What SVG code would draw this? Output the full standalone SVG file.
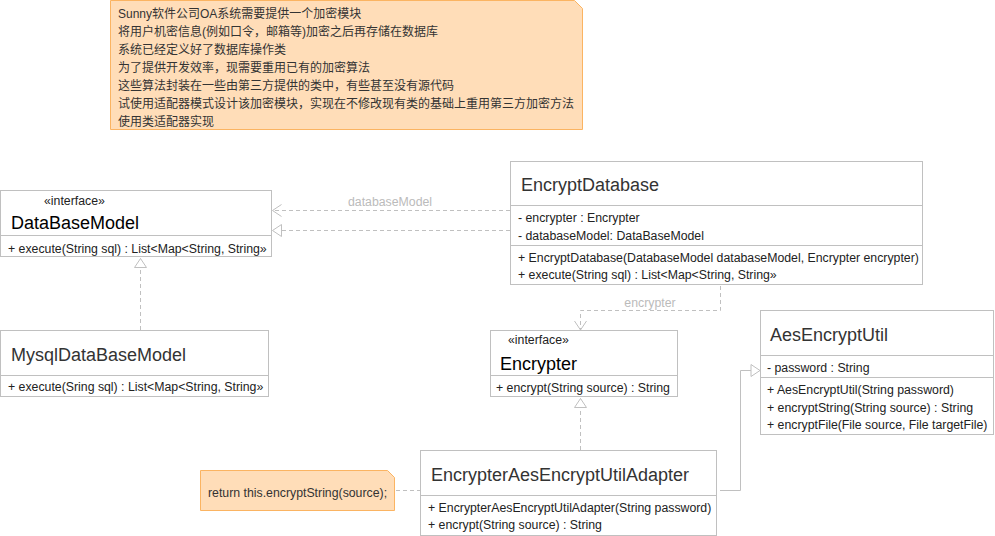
<svg xmlns="http://www.w3.org/2000/svg" width="995" height="536" viewBox="0 0 995 536">
<style>
text{font-family:"Liberation Sans",Arial,"Noto Sans CJK SC",sans-serif;font-size:12.3px;fill:#222}
.box{fill:#fff;stroke:#c0c0c0;stroke-width:1}
.sep{stroke:#c0c0c0;stroke-width:1}
.title{font-size:18px;fill:#333}
.ititle{font-size:18px;fill:#000}
.note{fill:#FFDDB8;stroke:#FBB462;stroke-width:1}
.ntext{fill:#333;font-size:12px}
.dash{fill:none;stroke:#c0c0c0;stroke-width:1;stroke-dasharray:4,3}
.solid{fill:none;stroke:#c0c0c0;stroke-width:1}
.lbl{fill:#bbbbbb;font-size:12.3px}
</style>
<defs>
<marker id="open" markerUnits="userSpaceOnUse" markerWidth="20" markerHeight="20" viewBox="-10 -10 20 20" refX="0" refY="0" orient="auto">
<path d="M-9,-6 L0,0 L-9,6" fill="none" stroke="#c0c0c0" stroke-width="1"/>
</marker>
<marker id="tri" markerUnits="userSpaceOnUse" markerWidth="20" markerHeight="20" viewBox="-10 -10 20 20" refX="0" refY="0" orient="auto">
<path d="M-9,-6 L0,0 L-9,6 Z" fill="#fff" stroke="#c0c0c0" stroke-width="1"/>
</marker>
</defs>
<rect width="995" height="536" fill="#fff"/>

<g id="connectors">
<path class="dash" d="M510,210.5 H272.5" marker-end="url(#open)"/>
<text class="lbl" x="390" y="206" text-anchor="middle">databaseModel</text>
<path class="dash" d="M510,230.5 H272.5" marker-end="url(#tri)"/>
<path class="dash" d="M720.5,286 V310.5 H580.5 V330" marker-end="url(#open)"/>
<text class="lbl" x="650" y="306.5" text-anchor="middle">encrypter</text>
<path class="dash" d="M140.5,330 V258.5" marker-end="url(#tri)"/>
<path class="dash" d="M580.5,450 V398.5" marker-end="url(#tri)"/>
<path class="solid" d="M720,490.5 H740.5 V370.5 H760" marker-end="url(#tri)"/>
<path class="dash" d="M396,490.5 H420"/>
</g>

<g id="note-requirements">
<polygon class="note" points="110.5,0.5 574.5,0.5 582.5,8.5 582.5,129.5 110.5,129.5"/>
<text class="ntext" x="118" y="18">Sunny软件公司OA系统需要提供一个加密模块</text>
<text class="ntext" x="118" y="36">将用户机密信息(例如口令，邮箱等)加密之后再存储在数据库</text>
<text class="ntext" x="118" y="54">系统已经定义好了数据库操作类</text>
<text class="ntext" x="118" y="72">为了提供开发效率，现需要重用已有的加密算法</text>
<text class="ntext" x="118" y="90">这些算法封装在一些由第三方提供的类中，有些甚至没有源代码</text>
<text class="ntext" x="118" y="108">试使用适配器模式设计该加密模块，实现在不修改现有类的基础上重用第三方加密方法</text>
<text class="ntext" x="118" y="126">使用类适配器实现</text>
</g>

<g id="DataBaseModel">
<rect class="box" x="0.5" y="190.5" width="271" height="66"/>
<line class="sep" x1="0.5" y1="235.5" x2="271.5" y2="235.5"/>
<text x="44" y="205">«interface»</text>
<text class="ititle" x="11" y="229">DataBaseModel</text>
<text x="8" y="253">+ execute(String sql) : List&lt;Map&lt;String, String»</text>
</g>

<g id="MysqlDataBaseModel">
<rect class="box" x="0.5" y="330.5" width="268" height="66"/>
<line class="sep" x1="0.5" y1="375.5" x2="268.5" y2="375.5"/>
<text class="title" x="11" y="361">MysqlDataBaseModel</text>
<text x="8" y="391">+ execute(Sring sql) : List&lt;Map&lt;String, String»</text>
</g>

<g id="EncryptDatabase">
<rect class="box" x="510.5" y="161.5" width="412" height="123"/>
<line class="sep" x1="510.5" y1="205.5" x2="922.5" y2="205.5"/>
<line class="sep" x1="510.5" y1="245.5" x2="922.5" y2="245.5"/>
<text class="title" x="521" y="191">EncryptDatabase</text>
<text x="518" y="222">- encrypter : Encrypter</text>
<text x="518" y="240">- databaseModel: DataBaseModel</text>
<text x="518" y="262">+ EncryptDatabase(DatabaseModel databaseModel, Encrypter encrypter)</text>
<text x="518" y="279">+ execute(String sql) : List&lt;Map&lt;String, String»</text>
</g>

<g id="Encrypter">
<rect class="box" x="490.5" y="330.5" width="187" height="66"/>
<line class="sep" x1="490.5" y1="375.5" x2="677.5" y2="375.5"/>
<text x="508" y="344">«interface»</text>
<text class="ititle" x="500" y="370">Encrypter</text>
<text x="496" y="392">+ encrypt(String source) : String</text>
</g>

<g id="AesEncryptUtil">
<rect class="box" x="760.5" y="310.5" width="233" height="124"/>
<line class="sep" x1="760.5" y1="355.5" x2="993.5" y2="355.5"/>
<line class="sep" x1="760.5" y1="377.5" x2="993.5" y2="377.5"/>
<text class="title" x="770" y="341">AesEncryptUtil</text>
<text x="767" y="372">- password : String</text>
<text x="767" y="394">+ AesEncryptUtil(String password)</text>
<text x="767" y="411.5">+ encryptString(String source) : String</text>
<text x="767" y="429">+ encryptFile(File source, File targetFile)</text>
</g>

<g id="EncrypterAesEncryptUtilAdapter">
<rect class="box" x="420.5" y="450.5" width="296" height="85"/>
<line class="sep" x1="420.5" y1="495.5" x2="716.5" y2="495.5"/>
<text class="title" x="431" y="481">EncrypterAesEncryptUtilAdapter</text>
<text x="428" y="511.5">+ EncrypterAesEncryptUtilAdapter(String password)</text>
<text x="428" y="529">+ encrypt(String source) : String</text>
</g>

<g id="note-encrypt">
<polygon class="note" points="200.5,470.5 387.5,470.5 394.5,477.5 394.5,510.5 200.5,510.5"/>
<text class="ntext" x="208" y="496.5" style="font-size:12.3px">return this.encryptString(source);</text>
</g>
</svg>
